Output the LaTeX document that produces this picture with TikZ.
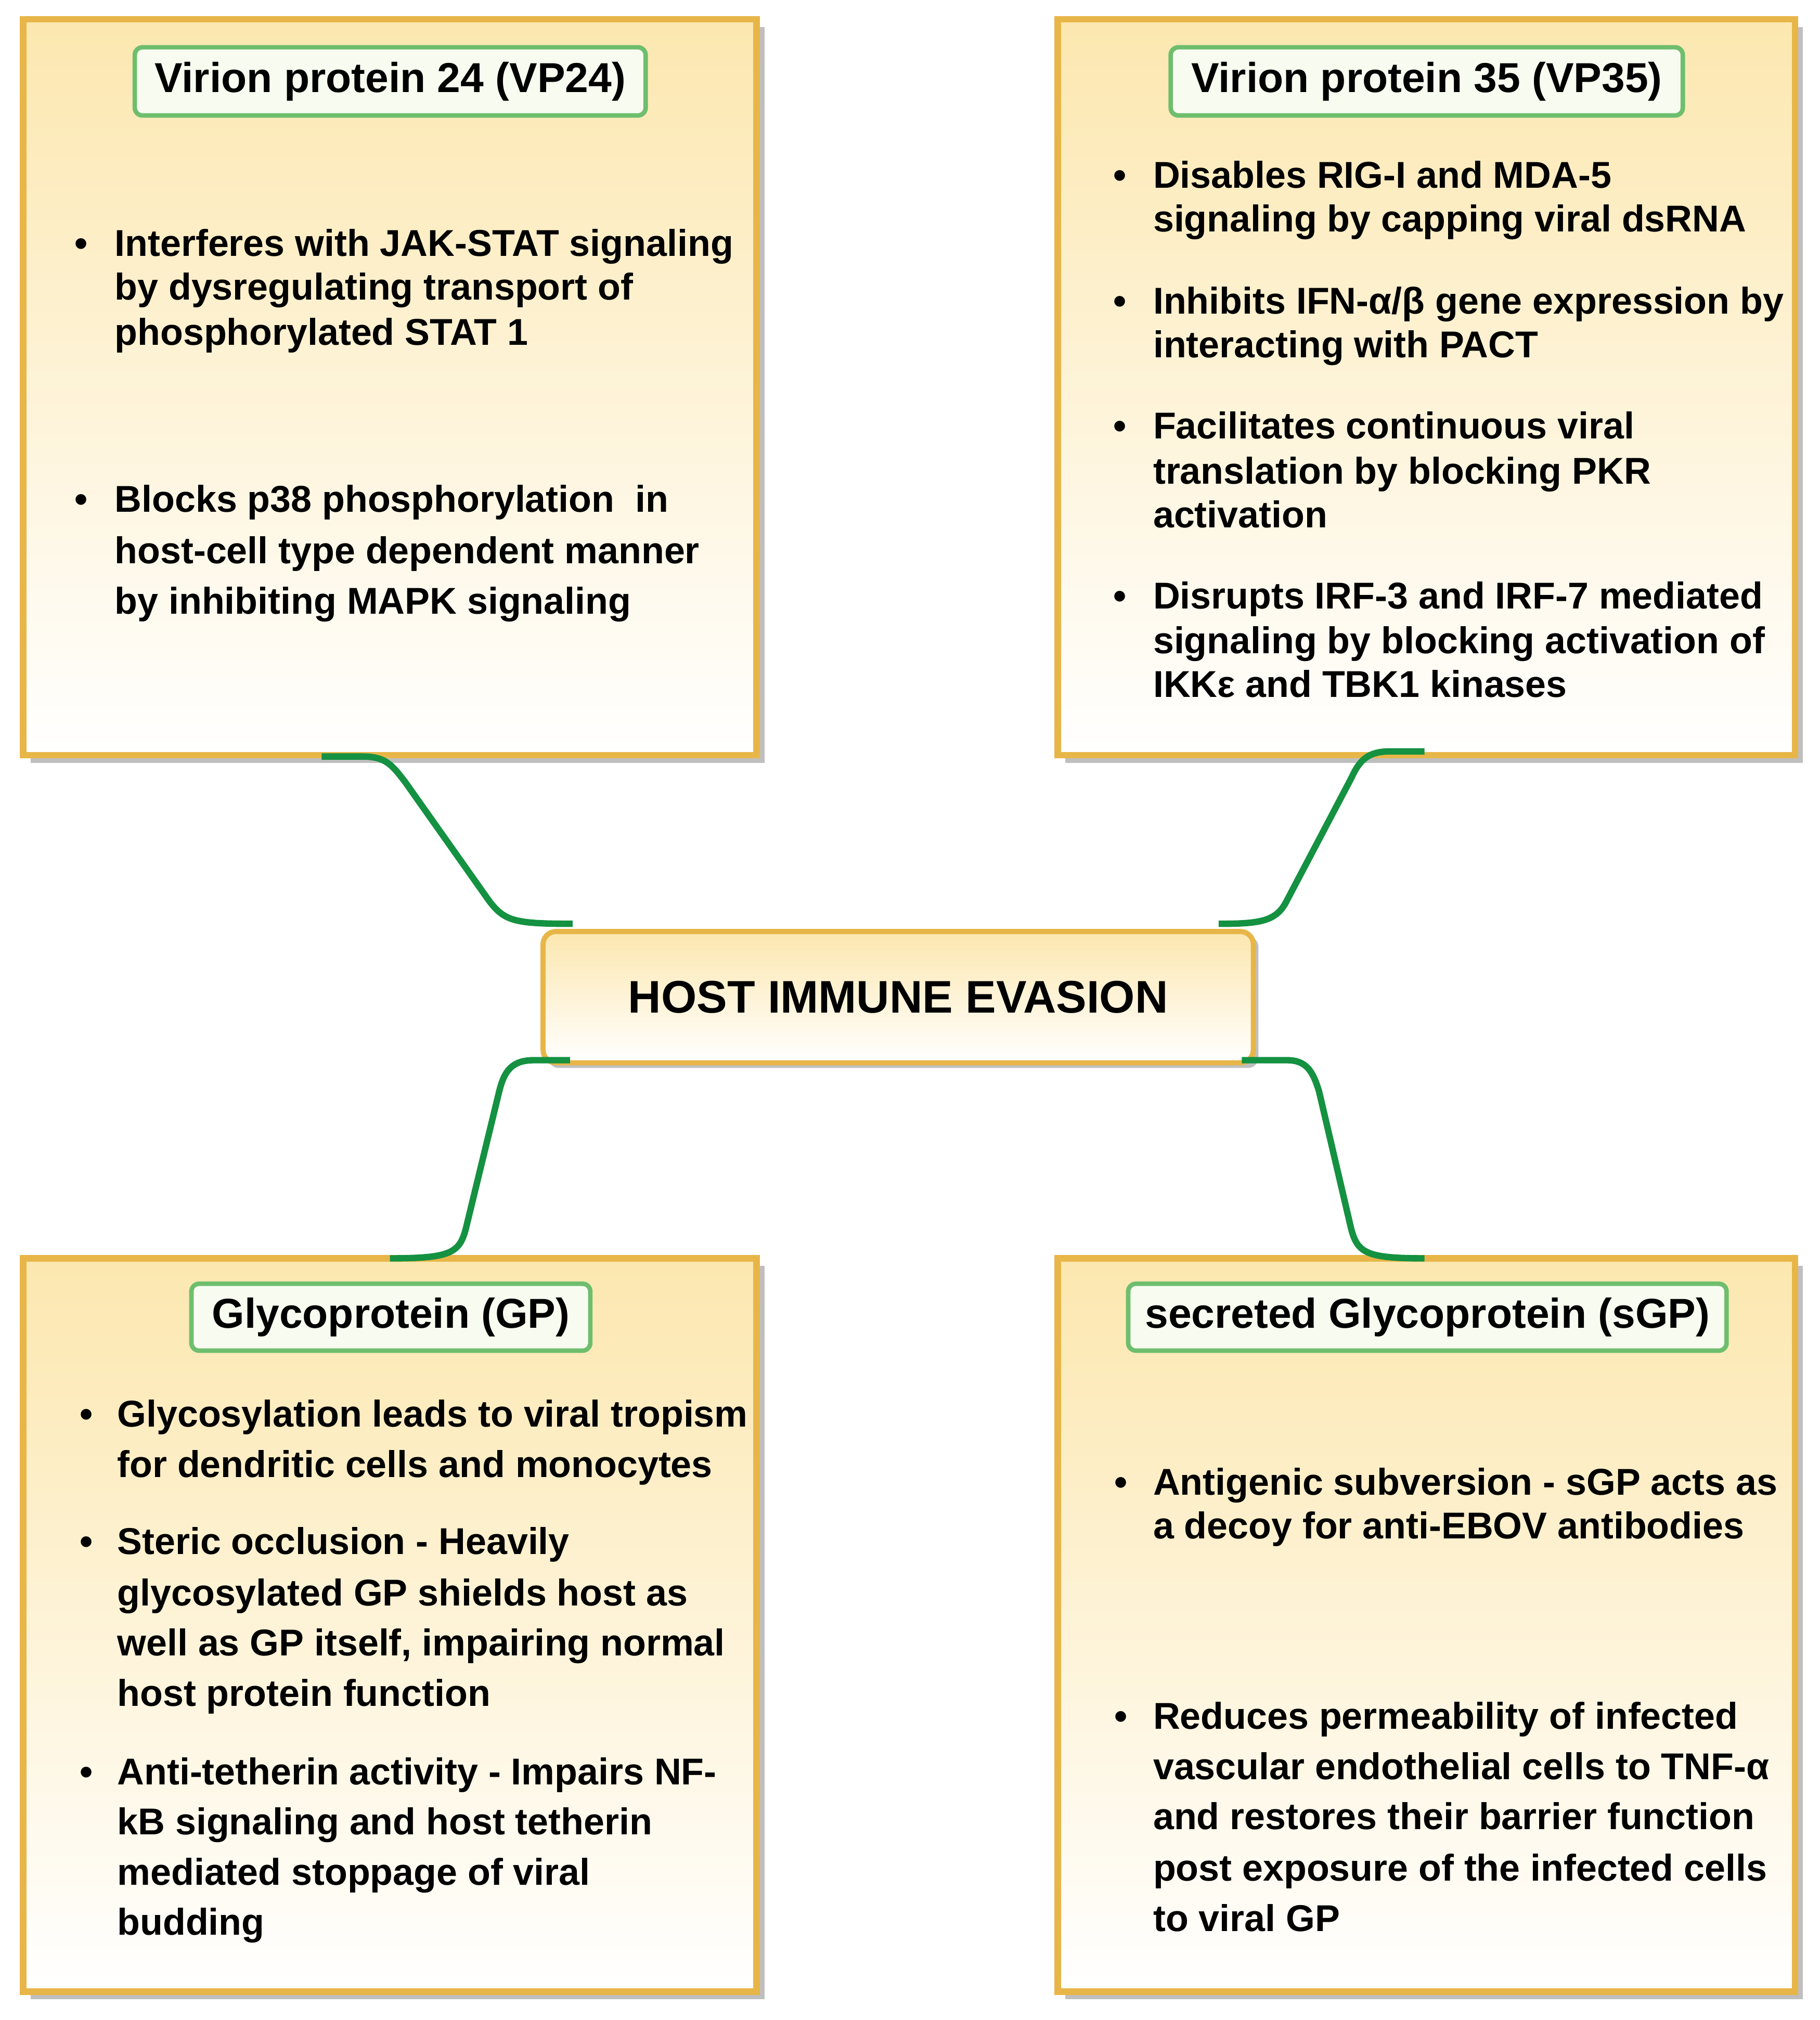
\documentclass[tikz,border=0pt]{standalone}
\usepackage{fontspec}
\setmainfont{Liberation Sans}
\begin{document}
\begin{tikzpicture}[x=1pt,y=-1pt,
  big/.style={draw={rgb,255:red,232;green,182;blue,72},line width=5pt,top color={rgb,255:red,252;green,231;blue,175},bottom color=white,shading angle=0},
  shad/.style={fill=black!25},
  ttl/.style={draw={rgb,255:red,110;green,190;blue,110},line width=3.5pt,rounded corners=6pt,fill={rgb,255:red,248;green,252;blue,240}},
  con/.style={draw={rgb,255:red,20;green,145;blue,65},line width=5pt},
  tl/.style={anchor=base west,inner sep=0,font=\bfseries\fontsize{29}{33}\selectfont},
  tt/.style={font=\bfseries\fontsize{32.5}{36}\selectfont}]
\newcommand\tline[3]{\node[tl] at (#1,#2+10) {#3};}
\newcommand\bul[2]{\node[tl] at (#1,#2+10) {\textbullet};}
\useasboundingbox (0,0) rectangle (1414,1570);
% shadows
\foreach \a/\b/\c/\d in {18/15/588/587,822/15/1395/587,18/978/588/1548,822/978/1395/1548}
 {\fill[shad] (\a+6,\b+6) rectangle (\c+6,\d+6);}
\fill[shad,rounded corners=8pt] (426,728) rectangle (978,830);
% boxes
\path[big] (18,15) rectangle (588,587);
\path[big] (822,15) rectangle (1395,587);
\path[big] (18,978) rectangle (588,1548);
\path[big] (822,978) rectangle (1395,1548);
\node[big,rounded corners=10pt,line width=4pt,minimum width=552pt,minimum height=102pt,anchor=north west,font=\bfseries\fontsize{35.5}{40}\selectfont] (c) at (420,722) {HOST IMMUNE EVASION};
% titles
\node[ttl,tt,minimum width=397pt,minimum height=53pt,anchor=north west] (t1) at (103,35) {Virion protein 24 (VP24)};
\node[ttl,tt,minimum width=398pt,minimum height=53pt,anchor=north west] (t2) at (908,35) {Virion protein 35 (VP35)};
\node[ttl,tt,minimum width=310pt,minimum height=52pt,anchor=north west] (t3) at (147,996) {Glycoprotein (GP)};
\node[ttl,tt,minimum width=465pt,minimum height=52pt,anchor=north west] (t4) at (875,996) {secreted Glycoprotein (sGP)};
% connectors
\coordinate (a1) at (250,588); \coordinate (a2) at (445,718);
\draw[con] (a1) -- (282,588) .. controls (300,588) and (305,595) .. (315,608) -- (380,700) .. controls (392,716) and (400,718) .. (a2);
\coordinate (b1) at (1107,584); \coordinate (b2) at (947,718);
\draw[con] (b1) -- (1080,584) .. controls (1062,584) and (1056,592) .. (1050,605) -- (1000,700) .. controls (992,716) and (980,718) .. (b2);
\coordinate (d1) at (443,824); \coordinate (d2) at (303,978);
\draw[con] (d1) -- (415,824) .. controls (398,824) and (392,832) .. (388,848) -- (362,955) .. controls (357,974) and (350,978) .. (d2);
\coordinate (e1) at (965,824); \coordinate (e2) at (1107,978);
\draw[con] (e1) -- (1000,824) .. controls (1015,824) and (1020,832) .. (1025,848) -- (1050,955) .. controls (1055,974) and (1062,978) .. (e2);
% TL text
\bul{58}{189}
\tline{89}{189}{Interferes with JAK-STAT signaling}
\tline{89}{223}{by dysregulating transport of}
\tline{89}{258}{phosphorylated STAT 1}
\bul{58}{388}
\tline{89}{388}{Blocks p38 phosphorylation\ \ in}
\tline{89}{428}{host-cell type dependent manner}
\tline{89}{467}{by inhibiting MAPK signaling}
% TR text
\bul{865}{136}
\tline{896}{136}{Disables RIG-I and MDA-5}
\tline{896}{170}{signaling by capping viral dsRNA}
\bul{865}{234}
\tline{896}{234}{Inhibits IFN-α/β gene expression by}
\tline{896}{268}{interacting with PACT}
\bul{865}{331}
\tline{896}{331}{Facilitates continuous viral}
\tline{896}{366}{translation by blocking PKR}
\tline{896}{400}{activation}
\bul{865}{463}
\tline{896}{463}{Disrupts IRF-3 and IRF-7 mediated}
\tline{896}{498}{signaling by blocking activation of}
\tline{896}{532}{IKKε and TBK1 kinases}
% BL text
\bul{62}{1099}
\tline{91}{1099}{Glycosylation leads to viral tropism}
\tline{91}{1138}{for dendritic cells and monocytes}
\bul{62}{1198}
\tline{91}{1198}{Steric occlusion - Heavily}
\tline{91}{1238}{glycosylated GP shields host as}
\tline{91}{1277}{well as GP itself, impairing normal}
\tline{91}{1316}{host protein function}
\bul{62}{1377}
\tline{91}{1377}{Anti-tetherin activity - Impairs NF-}
\tline{91}{1416}{kB signaling and host tetherin}
\tline{91}{1455}{mediated stoppage of viral}
\tline{91}{1494}{budding}
% BR text
\bul{866}{1152}
\tline{896}{1152}{Antigenic subversion - sGP acts as}
\tline{896}{1186}{a decoy for anti-EBOV antibodies}
\bul{866}{1334}
\tline{896}{1334}{Reduces permeability of infected}
\tline{896}{1373}{vascular endothelial cells to TNF-α}
\tline{896}{1412}{and restores their barrier function}
\tline{896}{1452}{post exposure of the infected cells}
\tline{896}{1491}{to viral GP}
\end{tikzpicture}
\end{document}
